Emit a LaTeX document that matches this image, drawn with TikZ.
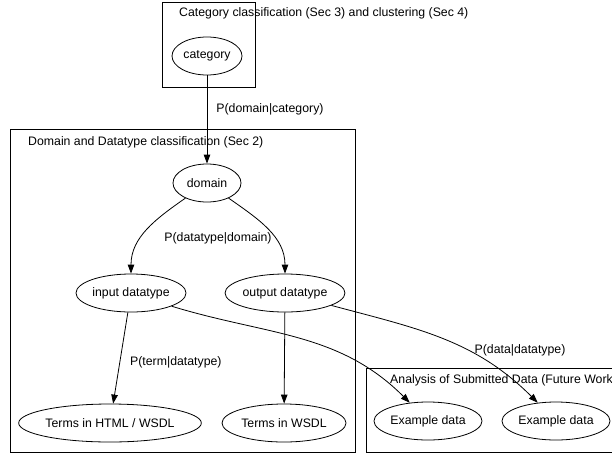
\documentclass[tikz,border=0pt]{standalone}
\usepackage{fontspec}
\setmainfont{Liberation Sans}
\usetikzlibrary{arrows.meta,shapes.geometric,positioning}
\newcommand{\graphfont}{\fontsize{12.3}{14}\selectfont}

\begin{document}
\begin{tikzpicture}[x=1pt,y=-1pt,
  var/.style={ellipse,draw,line width=0.8pt,inner sep=0pt,minimum height=38pt,font=\graphfont},
  cluster/.style={rectangle,draw,line width=0.9pt,inner sep=0pt},
  ctitle/.style={anchor=west,inner sep=0pt,font=\graphfont},
  lbl/.style={inner sep=0pt,font=\graphfont},
  dep/.style={-{Triangle[length=9pt,width=6.5pt]},line width=0.8pt}
]
  \useasboundingbox (0,0) rectangle (612,455);
  \node[cluster,minimum width=93pt,minimum height=85pt]  (catbox) at (208.5,44.5) {};
  \node[cluster,minimum width=345pt,minimum height=323pt](dombox) at (182.5,290.5) {};
  \node[cluster,minimum width=254pt,minimum height=84pt] (anabox) at (493,410) {};
  \node[ctitle] (cattitle) at (179,13)  {Category classification (Sec 3) and clustering (Sec 4)};
  \node[ctitle] (domtitle) at (28,142)  {Domain and Datatype classification (Sec 2)};
  \node[ctitle] (anatitle) at (390,380) {Analysis of Submitted Data (Future Work)};
  \node[var,minimum width=70pt]  (category)  at (207,56)  {category};
  \node[var,minimum width=68pt]  (domain)    at (207,183) {domain};
  \node[var,minimum width=110pt] (indt)      at (131,293) {input datatype};
  \node[var,minimum width=116pt] (outdt)     at (285,293) {output datatype};
  \node[var,minimum width=182pt] (termshtml) at (110,423) {Terms in HTML / WSDL};
  \node[var,minimum width=124pt] (termswsdl) at (284,423) {Terms in WSDL};
  \node[var,minimum width=108pt] (exin)      at (428,421) {Example data};
  \node[var,minimum width=108pt] (exout)     at (556,421) {Example data};
  \node[lbl] (pdatatype) at (218,238) {P(datatype|domain)};
  \node[lbl] (pdata)     at (520,350) {P(data|datatype)};
  \draw[dep](category)--(domain) node[lbl,pos=0.38,right=9pt]{P(domain|category)};
  \draw[dep](domain)to[out=215,in=90](indt);
  \draw[dep](domain)to[out=-35,in=90](outdt);
  \draw[dep](indt)--(termshtml) node[lbl,pos=0.55,right=10pt]{P(term|datatype)};
  \draw[dep](outdt)--(termswsdl);
  \draw[dep](indt.-18)to[out=-17,in=135](exin);
  \draw[dep](outdt.-15)to[out=-15,in=135](exout);
\end{tikzpicture}
\end{document}
